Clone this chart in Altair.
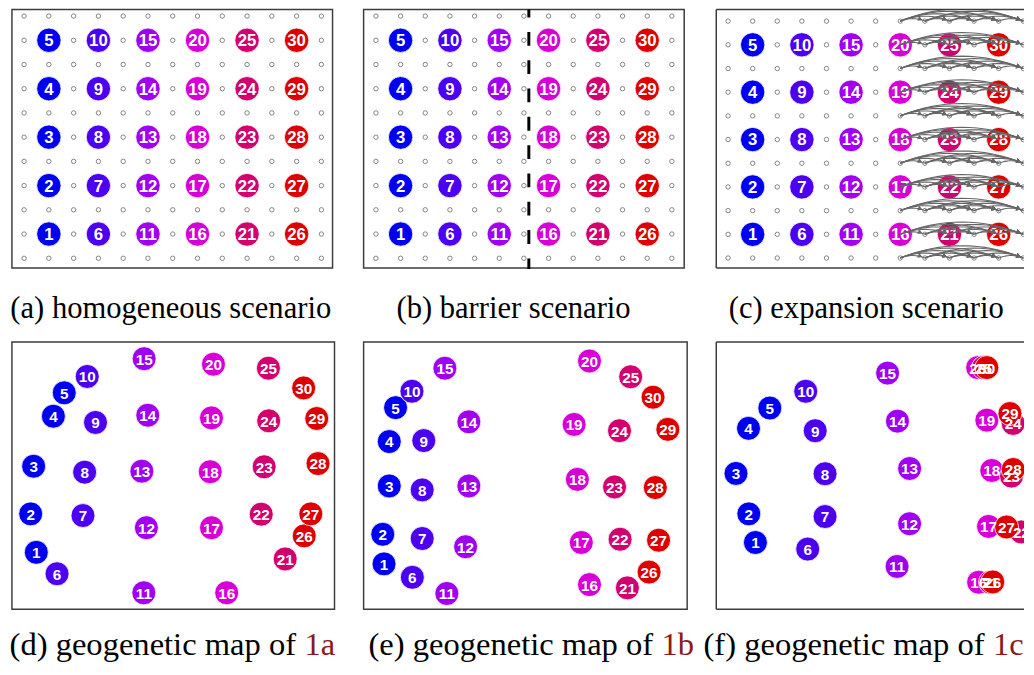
import altair as alt
import pandas as pd
import numpy as np

# ---------------- data ----------------
GROUP_COLORS = ["#0000F0", "#4B00F0", "#A000F0", "#D600D6", "#D2006E", "#DC0000"]

NODE_IDS = list(range(1, 31))
NODE_GROUP = [0] * 5 + [1] * 5 + [2] * 5 + [3] * 5 + [4] * 5 + [5] * 5

# scenario lattices (a, b, c): node column / row on the 13 x 11 lattice
GRID_NODE_COL = [1] * 5 + [3] * 5 + [5] * 5 + [7] * 5 + [9] * 5 + [11] * 5
GRID_NODE_ROW = [1, 3, 5, 7, 9] * 6
LATTICE_COLS = list(range(13))
LATTICE_ROWS = list(range(11))
BARRIER_X = [6.2]
EXPANSION_COLS = [7, 8, 9, 10, 11, 12]

# geogenetic maps (d, e, f): node positions
D_X = [24.7, 19.0, 22.0, 42.0, 53.0, 45.7, 72.0, 73.7, 84.7, 76.3,
       133.7, 136.3, 131.7, 137.7, 134.0, 217.7, 202.3, 201.0, 202.3, 204.3,
       277.0, 252.7, 255.7, 260.3, 260.0, 296.3, 303.0, 310.3, 309.0, 295.7]
D_Y = [57.7, 96.7, 145.0, 195.7, 219.4, 36.0, 95.0, 139.0, 189.4, 236.0,
       16.7, 82.7, 140.0, 196.7, 254.0, 16.7, 82.7, 139.4, 194.0, 248.4,
       51.0, 96.4, 144.4, 191.0, 244.4, 74.4, 96.7, 147.7, 193.4, 224.4]
E_X = [20.7, 19.4, 26.0, 26.0, 32.4, 49.4, 59.4, 59.4, 61.0, 49.0,
       84.4, 103.4, 106.7, 106.7, 82.4, 229.0, 220.7, 216.7, 213.4, 229.0,
       267.4, 260.0, 254.4, 259.4, 270.7, 289.4, 299.0, 295.7, 308.4, 293.4]
E_Y = [46.0, 76.0, 125.0, 170.0, 204.4, 32.4, 71.7, 121.0, 171.0, 221.0,
       16.0, 63.4, 125.0, 190.0, 244.4, 25.0, 67.7, 131.7, 187.4, 251.7,
       21.7, 71.0, 124.0, 181.0, 235.7, 37.7, 70.0, 123.4, 182.4, 215.0]
F_X = [39.7, 33.0, 20.0, 32.7, 54.3, 92.7, 110.3, 110.3, 100.3, 90.7,
       183.3, 196.0, 196.0, 183.7, 173.7, 266.0, 276.0, 279.3, 274.3, 265.0,
       278.0, 309.3, 299.3, 301.0, 271.0, 280.3, 294.3, 301.0, 297.7, 274.3]
F_Y = [67.7, 96.7, 137.7, 183.4, 204.0, 61.0, 94.0, 137.4, 181.0, 221.0,
       43.4, 86.7, 142.7, 190.7, 239.4, 27.4, 84.0, 140.7, 191.7, 245.0,
       27.4, 78.4, 135.0, 188.4, 245.0, 27.7, 83.4, 141.7, 198.4, 245.0]

CAPTIONS_TOP = ["(a) homogeneous scenario", "(b) barrier scenario", "(c) expansion scenario"]
CAPTIONS_BOTTOM = ["(d) geogenetic map of", "(e) geogenetic map of", "(f) geogenetic map of"]
CAPTION_REFS = ["1a", "1b", "1c"]

# ---------------- style ----------------
FRAME = "#3c3c3c"
DOT = "#777777"
ARC = "#666666"
REF_RED = "#8B1A1A"
SERIF = "Liberation Serif"
SANS = "Liberation Sans"

TOP_W = [325, 325, 312]
TOP_H = 262
BOT_W = [327, 328, 312]
BOT_H = 271

lattice_df = pd.DataFrame([(c, r) for c in LATTICE_COLS for r in LATTICE_ROWS], columns=["x", "y"])
grid_nodes_df = pd.DataFrame({"x": GRID_NODE_COL, "y": GRID_NODE_ROW, "n": NODE_IDS, "g": NODE_GROUP})

color_enc = alt.Color("g:O", scale=alt.Scale(domain=list(range(6)), range=GROUP_COLORS), legend=None)


def xy(xs, ys):
    return dict(x=alt.X("x:Q", scale=xs, axis=None), y=alt.Y("y:Q", scale=ys, axis=None))


def node_layers(df, xs, ys, fsize, csize, clip):
    base = alt.Chart(df).encode(**xy(xs, ys))
    circ = base.mark_circle(size=csize, opacity=1, stroke="white", strokeWidth=0.8, clip=clip).encode(color=color_enc)
    txt = base.mark_text(color="white", fontWeight="bold", fontSize=fsize, font=SANS,
                         baseline="middle", dy=1, clip=clip).encode(text="n:N")
    return [circ, txt]


def frame_layers(w, h):
    one = pd.DataFrame({"k": [0]})
    st = dict(color=FRAME, strokeWidth=1.5)
    return [
        alt.Chart(one).mark_rule(**st).encode(x=alt.value(0), x2=alt.value(w), y=alt.value(0)),
        alt.Chart(one).mark_rule(**st).encode(x=alt.value(0), y=alt.value(0), y2=alt.value(h)),
        alt.Chart(one).mark_rule(**st).encode(x=alt.value(0), x2=alt.value(w), y=alt.value(h)),
    ]


def caption_top(text, cx):
    return alt.Chart(pd.DataFrame({"t": [text]})).mark_text(
        font=SERIF, fontSize=31, align="center", baseline="alphabetic", color="black"
    ).encode(x=alt.value(cx), y=alt.value(312.7), text="t:N")


def caption_bottom(text, ref, xr):
    a = alt.Chart(pd.DataFrame({"t": [text]})).mark_text(
        font=SERIF, fontSize=33, align="right", baseline="alphabetic", color="black"
    ).encode(x=alt.value(xr), y=alt.value(317), text="t:N")
    b = alt.Chart(pd.DataFrame({"t": [ref]})).mark_text(
        font=SERIF, fontSize=33, align="left", baseline="alphabetic", color=REF_RED
    ).encode(x=alt.value(xr + 8.5), y=alt.value(317), text="t:N")
    return [a, b]


def lattice_layer(xs, ys, clip):
    return alt.Chart(lattice_df).mark_point(shape="circle", size=20, filled=False, color=DOT,
                                            strokeWidth=0.9, opacity=1, clip=clip).encode(**xy(xs, ys))


# ---------- panel a ----------
xs_a = alt.Scale(domain=[-0.49, 12.45], nice=False, zero=False)
ys_a = alt.Scale(domain=[-0.4, 10.27], nice=False, zero=False)
panel_a = alt.layer(
    lattice_layer(xs_a, ys_a, False),
    *node_layers(grid_nodes_df, xs_a, ys_a, 17, 610, False),
    caption_top(CAPTIONS_TOP[0], 161),
).properties(width=TOP_W[0], height=TOP_H, view=alt.ViewBackground(stroke=FRAME, strokeWidth=1.5))

# ---------- panel b ----------
xs_b = alt.Scale(domain=[-0.5, 12.5], nice=False, zero=False)
ys_b = alt.Scale(domain=[-0.4, 10.27], nice=False, zero=False)
barrier = alt.Chart(pd.DataFrame({"x": BARRIER_X})).mark_rule(
    color="black", strokeWidth=3, strokeDash=[14, 14.7], strokeDashOffset=6
).encode(x=alt.X("x:Q", scale=xs_b, axis=None), y=alt.value(0), y2=alt.value(263))
panel_b = alt.layer(
    lattice_layer(xs_b, ys_b, False),
    *node_layers(grid_nodes_df, xs_b, ys_b, 17, 610, False),
    barrier,
    caption_top(CAPTIONS_TOP[1], 152),
).properties(width=TOP_W[1], height=TOP_H, view=alt.ViewBackground(stroke=FRAME, strokeWidth=1.5))

# ---------- panel c ----------
xdom_c = [-0.48, 12.03]
ydom_c = [-0.42, 10.49]
xs_c = alt.Scale(domain=xdom_c, nice=False, zero=False)
ys_c = alt.Scale(domain=ydom_c, nice=False, zero=False)
px_x = TOP_W[2] / (xdom_c[1] - xdom_c[0])
px_y = TOP_H / (ydom_c[1] - ydom_c[0])

arc_rows, head_rows = [], []
aid = 0
tt = np.linspace(0, 1, 17)
for r in LATTICE_ROWS:
    for i, c0 in enumerate(EXPANSION_COLS):
        for c1 in EXPANSION_COLS[i + 1:]:
            d = c1 - c0
            peak_px = 2.5 * d
            ctrl = 2 * peak_px / px_y
            for t in tt:
                arc_rows.append((aid, t, c0 + (c1 - c0) * t, r + 2 * t * (1 - t) * ctrl))
            ang = np.arctan2(2 * peak_px, d / 2 * px_x)
            back = 5.0
            head_rows.append((c1 - back * np.cos(ang) / px_x, r + back * np.sin(ang) / px_y,
                              float(np.degrees(ang)) % 360))
            aid += 1
arcs_df = pd.DataFrame(arc_rows, columns=["id", "t", "x", "y"])
heads_df = pd.DataFrame(head_rows, columns=["x", "y", "ang"])

arcs = alt.Chart(arcs_df).mark_line(color=ARC, strokeWidth=1.1, clip=True).encode(
    **xy(xs_c, ys_c), detail="id:N", order="t:Q")
heads = alt.Chart(heads_df).mark_point(shape="triangle-right", filled=True, size=28, color=ARC,
                                       opacity=1, clip=True).encode(
    **xy(xs_c, ys_c), angle=alt.Angle("ang:Q", scale=None))

panel_c = alt.layer(
    lattice_layer(xs_c, ys_c, True),
    *node_layers(grid_nodes_df, xs_c, ys_c, 17, 610, True),
    arcs, heads,
    *frame_layers(TOP_W[2], TOP_H),
    caption_top(CAPTIONS_TOP[2], 152),
).properties(width=TOP_W[2], height=TOP_H, view=alt.ViewBackground(stroke="transparent"))


# ---------- bottom panels ----------
def map_panel(xv, yv, w, cap, ref, xr, open_right):
    df = pd.DataFrame({"x": xv, "y": yv, "n": NODE_IDS, "g": NODE_GROUP})
    xs = alt.Scale(domain=[0, w], nice=False, zero=False)
    ys = alt.Scale(domain=[0, BOT_H], nice=False, zero=False)
    layers = node_layers(df, xs, ys, 15.5, 590, open_right) + caption_bottom(cap, ref, xr)
    if open_right:
        layers += frame_layers(w, BOT_H)
        view = alt.ViewBackground(stroke="transparent")
    else:
        view = alt.ViewBackground(stroke=FRAME, strokeWidth=1.5)
    return alt.layer(*layers).properties(width=w, height=BOT_H, view=view)


panel_d = map_panel(D_X, D_Y, BOT_W[0], CAPTIONS_BOTTOM[0], CAPTION_REFS[0], 288, False)
panel_e = map_panel(E_X, E_Y, BOT_W[1], CAPTIONS_BOTTOM[1], CAPTION_REFS[1], 293.5, False)
panel_f = map_panel(F_X, F_Y, BOT_W[2], CAPTIONS_BOTTOM[2], CAPTION_REFS[2], 272, True)

chart = alt.concat(
    panel_a, panel_b, panel_c, panel_d, panel_e, panel_f,
    columns=3, bounds="flush",
    spacing=alt.RowColnumber(row=75, column=29.5),
).properties(
    padding={"left": 0, "top": -6, "right": 0, "bottom": 0}, background="white"
).configure_view(stroke=FRAME)

chart.save("out.html", embed_options={"renderer": "svg", "actions": False})
